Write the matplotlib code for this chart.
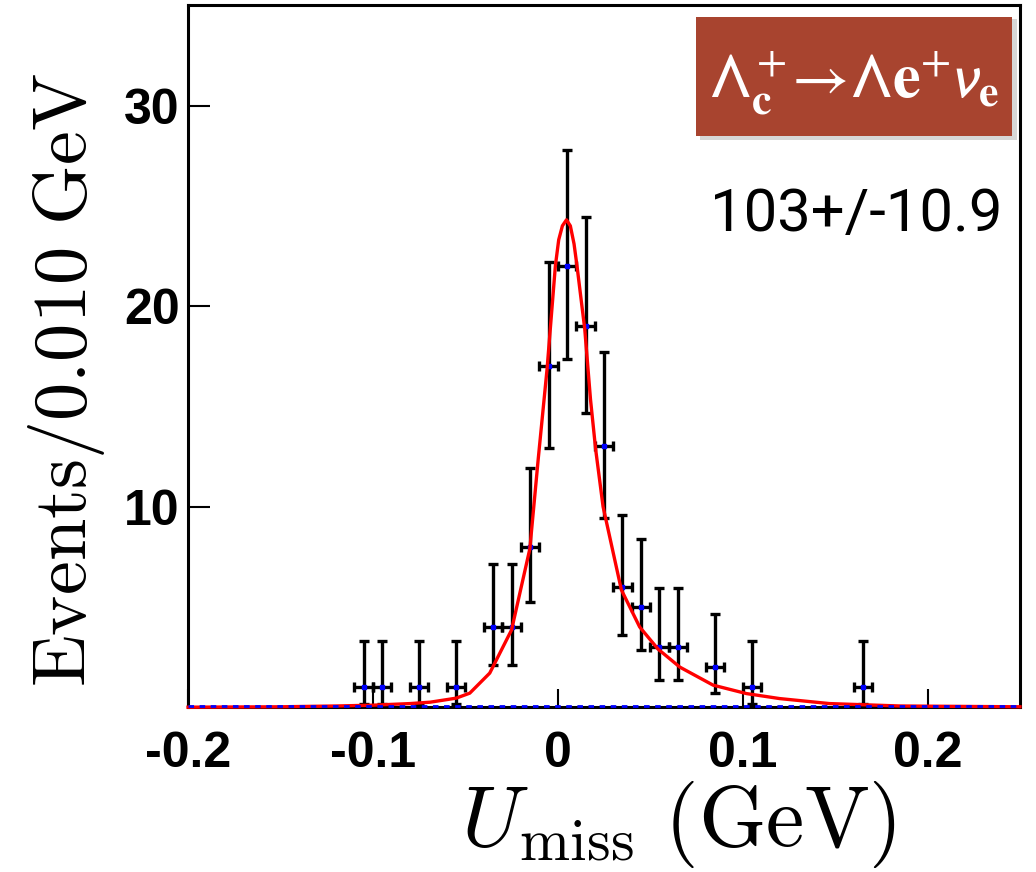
import matplotlib
matplotlib.use("Agg")
import matplotlib.pyplot as plt
from matplotlib.patches import Rectangle
import numpy as np

# binned data points (bin centres, counts)
bin_x = [-0.105, -0.095, -0.075, -0.055, -0.035, -0.025, -0.015, -0.005, 0.005,
         0.015, 0.025, 0.035, 0.045, 0.055, 0.065, 0.085, 0.105, 0.165]
counts = [1, 1, 1, 1, 4, 4, 8, 17, 22, 19, 13, 6, 5, 3, 3, 2, 1, 1]
# asymmetric (Poisson) error bar ends
err_low = [0.83, 0.83, 0.83, 0.83, 1.91, 1.91, 2.77, 4.08, 4.65,
           4.32, 3.55, 2.38, 2.16, 1.63, 1.63, 1.29, 0.83, 0.83]
err_high = [2.30, 2.30, 2.30, 2.30, 3.16, 3.16, 3.94, 5.21, 5.77,
            5.44, 4.70, 3.58, 3.38, 2.92, 2.92, 2.64, 2.30, 2.30]
bin_half = 0.005

# fitted curve
fit_x = [-0.20, -0.15, -0.12, -0.10, -0.08, -0.069, -0.055, -0.0476, -0.0368,
         -0.025, -0.0151, -0.0106, -0.0058, -0.0013, 0.0005, 0.0025, 0.0047,
         0.0068, 0.0088, 0.0104, 0.0146, 0.0177, 0.0205, 0.0245, 0.0344,
         0.0443, 0.0542, 0.066, 0.084, 0.102, 0.12, 0.147, 0.185, 0.25]
fit_y = [0.0, 0.02, 0.06, 0.10, 0.18, 0.25, 0.45, 0.70, 1.7,
         3.85, 7.9, 12.35, 16.85, 22.0, 23.3, 24.0, 24.3,
         24.0, 23.1, 22.0, 18.85, 15.35, 12.85, 10.0, 5.85,
         4.0, 2.9, 2.0, 1.1, 0.68, 0.43, 0.18, 0.06, 0.02]

# flat background component
bkg_x = [-0.2, 0.25]
bkg_y = [0.05, 0.05]

yticks = [10, 20, 30]
xticks = [-0.2, -0.1, 0, 0.1, 0.2]
xtick_labels = ["-0.2", "-0.1", "0", "0.1", "0.2"]

fig = plt.figure(figsize=(10.36, 8.72), dpi=100)
ax = fig.add_axes([0.1815, 0.189, 0.803, 0.805])

ax.errorbar(bin_x, counts, yerr=[err_low, err_high], xerr=bin_half,
            fmt="s", color="blue", ms=3.5, ecolor="black", elinewidth=2.4,
            capsize=3.5, capthick=2.4, zorder=3)
ax.plot(fit_x, fit_y, color="red", lw=2.4, zorder=6, clip_on=False)
ax.plot(bkg_x, bkg_y, color="blue", lw=2, ls=(0, (2, 2)), zorder=7, clip_on=False)

ax.set_xlim(-0.2, 0.25)
ax.set_ylim(0, 35)
ax.set_yticks(yticks)
ax.set_xticks(xticks)
ax.set_xticklabels(xtick_labels)
for lab in ax.get_xticklabels() + ax.get_yticklabels():
    lab.set_fontfamily("Liberation Sans")
    lab.set_fontweight("bold")
    lab.set_fontsize(36)
ax.tick_params(axis="y", direction="in", length=16, width=1.5, pad=6)
ax.tick_params(axis="x", direction="in", length=13, width=1.5, pad=17)
for sp in ax.spines.values():
    sp.set_linewidth(2.2)

ax.set_ylabel(r"$\mathrm{Events/0.010\ GeV}$", fontsize=55, math_fontfamily="cm")
ax.yaxis.set_label_coords(-0.098, 0.466)
ax.set_xlabel(r"$U_{\mathrm{miss}}\ \mathrm{(GeV)}$", fontsize=62, math_fontfamily="cm")
ax.xaxis.set_label_coords(0.589, -0.102)

# decay label box
ax.add_patch(Rectangle((0.616, 0.808), 0.38, 0.172, transform=ax.transAxes,
                       facecolor="#b0b0b0", edgecolor="none", alpha=0.5, zorder=8))
ax.add_patch(Rectangle((0.611, 0.814), 0.38, 0.169, transform=ax.transAxes,
                       facecolor="#a8442f", edgecolor="none", zorder=9))
ax.text(0.801, 0.889,
        r"$\mathsf{\Lambda}_{\mathbf{c}}^{\,\mathsf{+}}\!\rightarrow\!\mathsf{\Lambda}\mathbf{e}^{+}\mathsf{\nu}_{\mathbf{e}}$",
        transform=ax.transAxes, ha="center", va="center", color="white",
        fontsize=45, math_fontfamily="stix", zorder=10)

ax.text(0.803, 0.702, "103+/-10.9", transform=ax.transAxes, ha="center",
        va="center", fontsize=43, family="Roboto", color="black")

fig.savefig("out.png", dpi=100)
